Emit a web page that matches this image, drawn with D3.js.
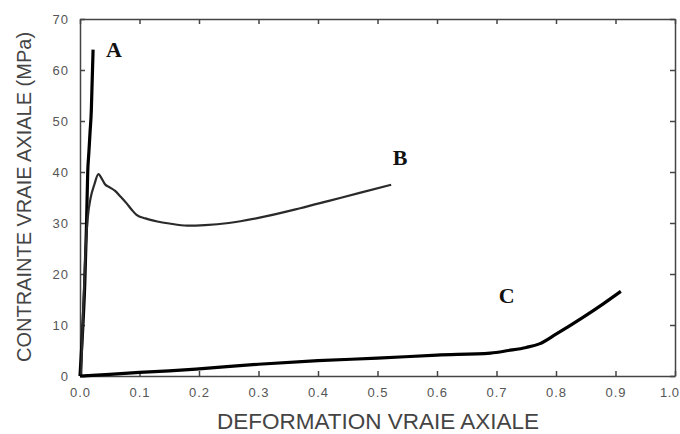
<!DOCTYPE html>
<html>
<head>
<meta charset="utf-8">
<script src="https://cdn.jsdelivr.net/npm/d3@7"></script>
<style>
  body { margin: 0; background: #fff; }
  svg { display: block; }
</style>
</head>
<body>
<svg id="chart" width="680" height="434"></svg>
<script>
// strain / stress readings for the three curves
const strainA = [0, 0.004, 0.008, 0.011, 0.013, 0.015, 0.017, 0.019, 0.020, 0.022];
const stressA = [0, 8, 18, 30, 40, 44, 48, 52, 56, 64];

const strainB = [0.002, 0.005, 0.009, 0.013, 0.018, 0.024, 0.031, 0.037, 0.042, 0.050, 0.059, 0.068, 0.078, 0.087, 0.095, 0.11, 0.13, 0.15, 0.18, 0.21, 0.25, 0.30, 0.37, 0.42, 0.47, 0.523];
const stressB = [0, 12, 24, 31, 35, 37.5, 39.6, 38.6, 37.6, 37.0, 36.3, 35.2, 33.9, 32.6, 31.6, 30.9, 30.3, 29.9, 29.5, 29.6, 30.0, 31.0, 32.9, 34.4, 35.9, 37.5];

const strainC = [0, 0.05, 0.1, 0.15, 0.2, 0.3, 0.4, 0.5, 0.6, 0.69, 0.72, 0.75, 0.772, 0.8, 0.844, 0.88, 0.909];
const stressC = [0, 0.3, 0.7, 1.0, 1.4, 2.3, 3.0, 3.5, 4.1, 4.5, 5.0, 5.6, 6.3, 8.2, 11.4, 14.2, 16.6];

const curveNames = ['A', 'B', 'C'];
const nameX = [0.057, 0.538, 0.717];
const nameY = [62.5, 41.4, 14.3];

const xTicks = [0, 0.1, 0.2, 0.3, 0.4, 0.5, 0.6, 0.7, 0.8, 0.9, 1.0];
const yTicks = [0, 10, 20, 30, 40, 50, 60, 70];

const svg = d3.select('#chart');

const x = d3.scaleLinear().domain([0, 1]).range([80, 675]);
const y = d3.scaleLinear().domain([0, 70]).range([376, 19]);

const frameColor = '#444';
const tickFont = 'Arial, "Liberation Sans", sans-serif';

// Axes (ticks point inward on all four sides)
const axisBottomG = svg.append('g')
    .attr('transform', `translate(0,${y(0)})`)
    .call(d3.axisBottom(x).tickValues(xTicks).tickFormat(d3.format('.1f')).tickSizeInner(-5).tickSizeOuter(0).tickPadding(12));
const axisTopG = svg.append('g')
    .attr('transform', `translate(0,${y(70)})`)
    .call(d3.axisTop(x).tickValues(xTicks).tickFormat('').tickSizeInner(-5).tickSizeOuter(0));
const axisLeftG = svg.append('g')
    .attr('transform', `translate(${x(0)},0)`)
    .call(d3.axisLeft(y).tickValues(yTicks).tickSizeInner(-5).tickSizeOuter(0).tickPadding(11));
const axisRightG = svg.append('g')
    .attr('transform', `translate(${x(1)},0)`)
    .call(d3.axisRight(y).tickValues(yTicks).tickFormat('').tickSizeInner(-5).tickSizeOuter(0));

[axisBottomG, axisTopG, axisLeftG, axisRightG].forEach(g => {
    g.select('.domain').attr('stroke', frameColor).attr('stroke-width', 1.5);
    g.selectAll('.tick line').attr('stroke', frameColor).attr('stroke-width', 1.5);
    g.selectAll('.tick text')
        .attr('fill', '#555')
        .style('font-family', tickFont)
        .style('font-size', '13px')
        .style('letter-spacing', '1px');
});

// last x label sits at the window edge: keep it inside
axisBottomG.selectAll('.tick text')
    .filter(d => d === 1)
    .attr('text-anchor', 'end')
    .attr('x', 4)
    .style('letter-spacing', '0.5px');

// Curves
const line = d3.line()
    .x(d => x(d[0]))
    .y(d => y(d[1]))
    .curve(d3.curveMonotoneX);

const curves = [
    { xs: strainA, ys: stressA, color: '#000', width: 3.2 },
    { xs: strainB, ys: stressB, color: '#2a2a2a', width: 2.2 },
    { xs: strainC, ys: stressC, color: '#000', width: 3.2 },
];

svg.append('g')
    .selectAll('path')
    .data(curves)
    .enter()
    .append('path')
    .attr('fill', 'none')
    .attr('stroke', d => d.color)
    .attr('stroke-width', d => d.width)
    .attr('stroke-linejoin', 'round')
    .attr('d', d => line(d.xs.map((v, i) => [v, d.ys[i]])));

// Curve names
svg.append('g')
    .selectAll('text')
    .data(curveNames)
    .enter()
    .append('text')
    .attr('x', (d, i) => x(nameX[i]))
    .attr('y', (d, i) => y(nameY[i]))
    .attr('text-anchor', 'middle')
    .style('font-family', '"Liberation Serif", "Times New Roman", serif')
    .style('font-weight', 'bold')
    .style('font-size', '22px')
    .attr('fill', '#111')
    .text(d => d);

// Axis titles
svg.append('text')
    .attr('x', 378)
    .attr('y', 429)
    .attr('text-anchor', 'middle')
    .style('font-family', tickFont)
    .style('font-size', '22.5px')
    .attr('fill', '#444')
    .text('DEFORMATION VRAIE AXIALE');

svg.append('text')
    .attr('transform', 'translate(31,197) rotate(-90)')
    .attr('text-anchor', 'middle')
    .style('font-family', tickFont)
    .style('font-size', '20px')
    .attr('fill', '#444')
    .text('CONTRAINTE VRAIE AXIALE (MPa)');
</script>
</body>
</html>
